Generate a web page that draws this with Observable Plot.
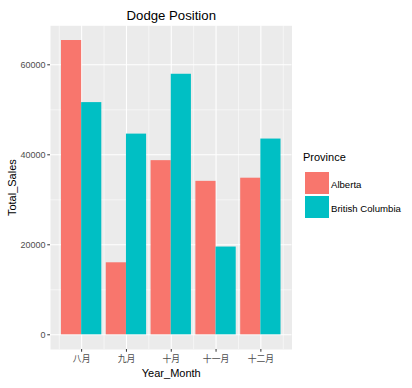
<!DOCTYPE html>
<html><head><meta charset="utf-8">
<script src="https://cdn.jsdelivr.net/npm/d3@7"></script>
<script src="https://cdn.jsdelivr.net/npm/@observablehq/plot@0.6"></script>
<style>
body{margin:0;background:#fff}
#wrap{position:relative;width:412px;height:388px;font-family:"Liberation Sans",Arial,"Noto Sans CJK SC",sans-serif}
.lg{position:absolute;font-family:"Liberation Sans",Arial,sans-serif}
</style>
</head><body><div id="wrap"></div>
<script>
const months = [8, 9, 10, 11, 12];
const monthLabels = ["八月", "九月", "十月", "十一月", "十二月"];
const provinces = ["Alberta", "British Columbia"];
const albertaSales = [65400, 16000, 38700, 34100, 34800];
const bcSales = [51600, 44600, 57900, 19500, 43500];
const colors = ["#F8766D", "#00BFC4"];
const yTicks = [0, 20000, 40000, 60000];
const yMinor = [10000, 30000, 50000];
const xMinor = [7.5, 8.5, 9.5, 10.5, 11.5, 12.5];

const series = [albertaSales, bcSales];
const rows = [];
months.forEach((m, i) => {
  provinces.forEach((p, j) => {
    rows.push({month: m, province: p, value: series[j][i], x1: m - 0.45 + j * 0.45, x2: m + j * 0.45});
  });
});

const yMax = Math.max(...albertaSales, ...bcSales);
const xLo = 7.55, xHi = 12.45, xe = (xHi - xLo) * 0.05;

const chart = Plot.plot({
  width: 412, height: 388,
  marginLeft: 50, marginRight: 120.5, marginTop: 25.3, marginBottom: 39,
  style: {fontFamily: '"Liberation Sans", Arial, "Noto Sans CJK SC", sans-serif', background: "white"},
  x: {domain: [xLo - xe, xHi + xe], axis: null},
  y: {domain: [-0.05 * yMax, 1.05 * yMax], axis: null},
  color: {domain: provinces, range: colors},
  marks: [
    Plot.frame({fill: "#EBEBEB", stroke: null}),
    Plot.gridY(yMinor, {stroke: "white", strokeOpacity: 1, strokeWidth: 0.55}),
    Plot.gridX(xMinor, {stroke: "white", strokeOpacity: 1, strokeWidth: 0.55}),
    Plot.gridY(yTicks, {stroke: "white", strokeOpacity: 1, strokeWidth: 1.07}),
    Plot.gridX(months, {stroke: "white", strokeOpacity: 1, strokeWidth: 1.07}),
    Plot.rectY(rows, {x1: "x1", x2: "x2", y1: 0, y2: "value", fill: "province"}),
    Plot.axisY(yTicks, {tickSize: 2.74, tickPadding: 2.2, stroke: "#333333", color: "#4D4D4D", fontSize: 9, label: null, tickFormat: d => String(d)}),
    Plot.axisX(months, {tickSize: 2.74, tickPadding: 4, stroke: "#333333", color: "#4D4D4D", fontSize: 8.8, label: null,
      fontFamily: '"Noto Sans CJK SC", sans-serif', tickFormat: d => monthLabels[months.indexOf(d)]}),
    Plot.text(["Total_Sales"], {frameAnchor: "left", dx: -38, rotate: -90, fontSize: 11, fill: "black", textAnchor: "middle"}),
    Plot.text(["Year_Month"], {frameAnchor: "bottom", dy: 24, fontSize: 11, fill: "black", lineAnchor: "middle"}),
    Plot.text(["Dodge Position"], {frameAnchor: "top", dy: -10.5, fontSize: 13.2, fill: "black", lineAnchor: "middle"})
  ]
});

const wrap = document.getElementById("wrap");
wrap.appendChild(chart);

const title = document.createElement("div");
title.className = "lg";
title.textContent = "Province";
title.style.cssText += "left:303px;top:151px;font-size:11px;color:black;";
wrap.appendChild(title);
provinces.forEach((p, j) => {
  const key = document.createElement("div");
  key.className = "lg";
  key.style.cssText += `left:304.5px;top:${171.5 + j * 24}px;width:24.5px;height:22.5px;background:${colors[j]};`;
  wrap.appendChild(key);
  const lab = document.createElement("div");
  lab.className = "lg";
  lab.textContent = p;
  lab.style.cssText += `left:331px;top:${178.5 + j * 24.5}px;font-size:9.6px;color:black;line-height:11px;`;
  wrap.appendChild(lab);
});
</script>
</body></html>
